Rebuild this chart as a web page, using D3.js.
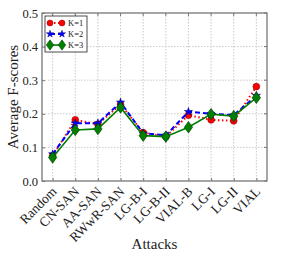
<!DOCTYPE html>
<meta charset="utf-8">
<script src="https://d3js.org/d3.v7.min.js"></script>
<style>
  body { margin: 0; background: #fff; }
  text { font-family: "Liberation Serif", "DejaVu Serif", serif; fill: #222; }
</style>
<svg id="chart" width="297" height="255"></svg>
<script>
  // chart data
  const attacks = ["Random", "CN-SAN", "AA-SAN", "RWwR-SAN", "LG-B-I", "LG-B-II", "VIAL-B", "LG-I", "LG-II", "VIAL"];
  const k1 = [0.075, 0.182, 0.169, 0.228, 0.144, 0.132, 0.196, 0.182, 0.179, 0.281];
  const k2 = [0.080, 0.172, 0.172, 0.234, 0.142, 0.136, 0.206, 0.200, 0.196, 0.254];
  const k3 = [0.070, 0.152, 0.155, 0.219, 0.135, 0.132, 0.160, 0.199, 0.193, 0.248];
  const yTicks = [0.0, 0.1, 0.2, 0.3, 0.4, 0.5];

  const svg = d3.select("#chart");
  const margin = {left: 42, top: 13, right: 30, bottom: 74};
  const width = 297 - margin.left - margin.right,
        height = 255 - margin.top - margin.bottom;

  const g = svg.append("g").attr("transform", `translate(${margin.left},${margin.top})`);

  const x = d3.scalePoint().domain(attacks).range([0, width]).padding(0.47);
  const y = d3.scaleLinear().domain([0, 0.5]).range([height, 0]);

  // grid
  g.append("g").selectAll("line").data(attacks).join("line")
    .attr("x1", d => x(d)).attr("x2", d => x(d))
    .attr("y1", 0).attr("y2", height)
    .attr("stroke", "#bbb").attr("stroke-width", 0.8).attr("stroke-dasharray", "1.5,1.5");
  g.append("g").selectAll("line").data(yTicks.slice(1, -1)).join("line")
    .attr("x1", 0).attr("x2", width)
    .attr("y1", d => y(d)).attr("y2", d => y(d))
    .attr("stroke", "#bbb").attr("stroke-width", 0.8).attr("stroke-dasharray", "1.5,1.5");

  // axes
  const yAxis = g.append("g")
    .call(d3.axisLeft(y).tickValues(yTicks).tickFormat(d3.format(".1f")).tickSize(-3).tickPadding(4));
  yAxis.select(".domain").remove();
  yAxis.selectAll("line").attr("stroke", "#777");
  yAxis.selectAll("text").attr("font-size", 12.5).attr("fill", "#444");

  const xAxis = g.append("g").attr("transform", `translate(0,${height})`)
    .call(d3.axisBottom(x).tickSize(-3));
  xAxis.select(".domain").remove();
  xAxis.selectAll("line").attr("stroke", "#777");
  xAxis.selectAll("text")
    .attr("font-size", 13.5).attr("fill", "#222")
    .attr("text-anchor", "end")
    .attr("y", 0)
    .attr("dy", "0.35em")
    .attr("transform", "translate(1,8) rotate(-45)");

  // top / right ticks
  g.append("g").selectAll("line").data(attacks).join("line")
    .attr("x1", d => x(d)).attr("x2", d => x(d)).attr("y1", 0).attr("y2", 3).attr("stroke", "#777");
  g.append("g").selectAll("line").data(yTicks).join("line")
    .attr("x1", width - 3).attr("x2", width).attr("y1", d => y(d)).attr("y2", d => y(d)).attr("stroke", "#777");

  // frame
  g.append("rect").attr("width", width).attr("height", height)
    .attr("fill", "none").attr("stroke", "#777").attr("stroke-width", 1.3);

  const line = d3.line().x((d, i) => x(attacks[i])).y(d => y(d));

  const series = [
    {name: "K=1", values: k1, color: "#ff0000", edge: "#8b0000", dash: "1.5,2.5", sw: 2, marker: d3.symbolCircle, size: 36},
    {name: "K=2", values: k2, color: "#0000ff", edge: "#00008b", dash: "5,3", sw: 2, marker: d3.symbolStar, size: 20},
    {name: "K=3", values: k3, color: "#008000", edge: "#004000", dash: null, sw: 1.6, marker: d3.symbolDiamond, size: 38}
  ];

  series.forEach(s => {
    g.append("path").datum(s.values)
      .attr("d", line).attr("fill", "none")
      .attr("stroke", s.color).attr("stroke-width", s.sw)
      .attr("stroke-dasharray", s.dash);
    g.append("g").selectAll("path").data(s.values).join("path")
      .attr("transform", (d, i) => `translate(${x(attacks[i])},${y(d)})` + (s.marker === d3.symbolDiamond ? " scale(1.25,1)" : ""))
      .attr("d", d3.symbol().type(s.marker).size(s.size))
      .attr("fill", s.color).attr("stroke", s.edge).attr("stroke-width", 0.6);
  });

  // legend
  const leg = g.append("g").attr("transform", "translate(3,3)");
  leg.append("rect").attr("width", 42).attr("height", 36)
    .attr("fill", "#fff").attr("stroke", "#222").attr("stroke-width", 0.8);
  series.forEach((s, i) => {
    const ly = 7 + i * 11;
    leg.append("line").attr("x1", 5).attr("x2", 17).attr("y1", ly).attr("y2", ly)
      .attr("stroke", s.color).attr("stroke-width", s.sw).attr("stroke-dasharray", s.dash);
    [5, 17].forEach(mx => {
      leg.append("path")
        .attr("transform", `translate(${mx},${ly})` + (s.marker === d3.symbolDiamond ? " scale(1.25,1)" : ""))
        .attr("d", d3.symbol().type(s.marker).size(s.size * 0.8))
        .attr("fill", s.color).attr("stroke", s.edge).attr("stroke-width", 0.5);
    });
    leg.append("text").attr("x", 23).attr("y", ly).attr("dy", "0.35em")
      .attr("font-size", 8.5).text(s.name);
  });

  // axis titles
  svg.append("text")
    .attr("transform", `translate(18,${margin.top + height / 2}) rotate(-90)`)
    .attr("text-anchor", "middle").attr("font-size", 15).text("Average F-scores");
  svg.append("text")
    .attr("x", margin.left + width / 2).attr("y", 249)
    .attr("text-anchor", "middle").attr("font-size", 15).text("Attacks");
</script>
